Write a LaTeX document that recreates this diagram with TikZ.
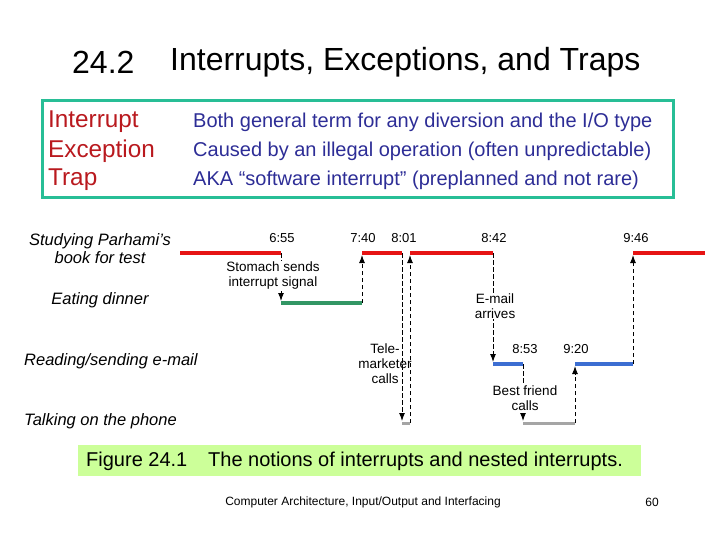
\documentclass[tikz,border=0pt]{standalone}
\usepackage{fontspec}
\setmainfont{Liberation Sans}
\usetikzlibrary{arrows.meta}
\definecolor{termred}{RGB}{185,25,30}
\definecolor{termblue}{RGB}{45,45,150}
\definecolor{boxteal}{RGB}{40,190,150}
\definecolor{studyred}{RGB}{230,20,20}
\definecolor{dinnergreen}{RGB}{50,150,100}
\definecolor{mailblue}{RGB}{60,110,210}
\definecolor{phonegray}{RGB}{165,165,165}
\definecolor{capgreen}{RGB}{204,255,153}
\begin{document}
\begin{tikzpicture}[x=1pt, y=-1pt, every node/.style={inner sep=0pt},
    level/.style={line width=4pt},
    jump/.style={line width=1pt, dash pattern=on 4.5pt off 2.5pt, -{Latex[length=8pt,width=6pt]}, shorten >=2pt},
    timelbl/.style={font=\fontsize{13}{15}\selectfont},
    note/.style={font=\fontsize{13.5}{15}\selectfont, align=center, fill=white, inner sep=1pt},
    activity/.style={font=\fontsize{16.5}{18}\selectfont\itshape, align=center}]
    \useasboundingbox (0,0) rectangle (720,540);

    % Titel
    \node[anchor=west, font=\fontsize{32}{36}\selectfont] (num) at (72,62) {24.2};
    \node[anchor=west, font=\fontsize{32}{36}\selectfont] (title) at (170,62) {Interrupts, Exceptions, and Traps};

    % Begriffe
    \draw[boxteal, line width=3pt] (42,101) rectangle (673,198);
    \node[anchor=west, termred, font=\fontsize{24.3}{28}\selectfont] (tint) at (48,122) {Interrupt};
    \node[anchor=west, termred, font=\fontsize{24.3}{28}\selectfont] (texc) at (48,151) {Exception};
    \node[anchor=west, termred, font=\fontsize{24.3}{28}\selectfont] (ttrap) at (48,180) {Trap};
    \node[anchor=west, termblue, font=\fontsize{20}{24}\selectfont] (dint) at (193,122) {Both general term for any diversion and the I/O type};
    \node[anchor=west, termblue, font=\fontsize{20}{24}\selectfont] (dexc) at (193,151) {Caused by an illegal operation (often unpredictable)};
    \node[anchor=west, termblue, font=\fontsize{20}{24}\selectfont] (dtrap) at (193,180) {AKA “software interrupt” (preplanned and not rare)};

    % Taetigkeiten
    \node[activity] (study) at (100,249) {Studying Parhami's\\book for test};
    \node[activity] (dinner) at (100,300) {Eating dinner};
    \node[activity, anchor=west] (email) at (24,361) {Reading/sending e-mail};
    \node[activity, anchor=west] (phone) at (24,421) {Talking on the phone};

    % Ebenen
    \coordinate (st1a) at (180,253); \coordinate (st1b) at (281,253);
    \coordinate (st2a) at (362,253); \coordinate (st2b) at (402,253);
    \coordinate (st3a) at (410,253); \coordinate (st3b) at (493,253);
    \coordinate (st4a) at (633,253); \coordinate (st4b) at (705,253);
    \coordinate (dia) at (281,303); \coordinate (dib) at (362,303);
    \coordinate (em1a) at (493,364); \coordinate (em1b) at (523,364);
    \coordinate (em2a) at (575,364); \coordinate (em2b) at (633,364);
    \coordinate (ph1a) at (402,423); \coordinate (ph1b) at (410,423);
    \coordinate (ph2a) at (523,423); \coordinate (ph2b) at (575,423);

    \draw[level, studyred] (st1a) -- (st1b);
    \draw[level, studyred] (st2a) -- (st2b);
    \draw[level, studyred] (st3a) -- (st3b);
    \draw[level, studyred] (st4a) -- (st4b);
    \draw[level, dinnergreen] (dia) -- (dib);
    \draw[level, mailblue] (em1a) -- (em1b);
    \draw[level, mailblue] (em2a) -- (em2b);
    \draw[line width=3pt, phonegray] (ph1a) -- (ph1b);
    \draw[line width=3pt, phonegray] (ph2a) -- (ph2b);

    % Unterbrechungen und Ruecksprung
    \draw[jump] (st1b) -- (dia);
    \draw[jump] (dib) -- (st2a);
    \draw[jump] (st2b) -- (ph1a);
    \draw[jump] (ph1b) -- (st3a);
    \draw[jump] (st3b) -- (em1a);
    \draw[jump] (em1b) -- (ph2a);
    \draw[jump] (ph2b) -- (em2a);
    \draw[jump] (em2b) -- (st4a);

    % Zeiten
    \node[timelbl] (t655) at (282,238) {6:55};
    \node[timelbl] (t740) at (363,238) {7:40};
    \node[timelbl] (t801) at (404,238) {8:01};
    \node[timelbl] (t842) at (494,238) {8:42};
    \node[timelbl] (t946) at (636,238) {9:46};
    \node[timelbl] (t853) at (525,349) {8:53};
    \node[timelbl] (t920) at (576,349) {9:20};

    % Ausloeser
    \node[note] (stomach) at (273,276) {Stomach sends\\interrupt signal};
    \node[note, fill=none] (tele) at (385,364) {Tele-\\marketer\\calls};
    \node[note] (mail) at (495,306) {E-mail\\arrives};
    \node[note] (friend) at (525,398) {Best friend\\calls};

    % Bildunterschrift
    \fill[capgreen] (78,445) rectangle (641,476);
    \node[anchor=west, font=\fontsize{20}{23}\selectfont] (fig) at (86,461) {Figure 24.1};
    \node[anchor=west, font=\fontsize{20}{23}\selectfont] (cap) at (208,461) {The notions of interrupts and nested interrupts.};

    % Fusszeile
    \node[font=\fontsize{12}{14}\selectfont] (foot) at (363,502) {Computer Architecture, Input/Output and Interfacing};
    \node[font=\fontsize{12}{14}\selectfont] (page) at (652,502) {60};
\end{tikzpicture}
\end{document}
